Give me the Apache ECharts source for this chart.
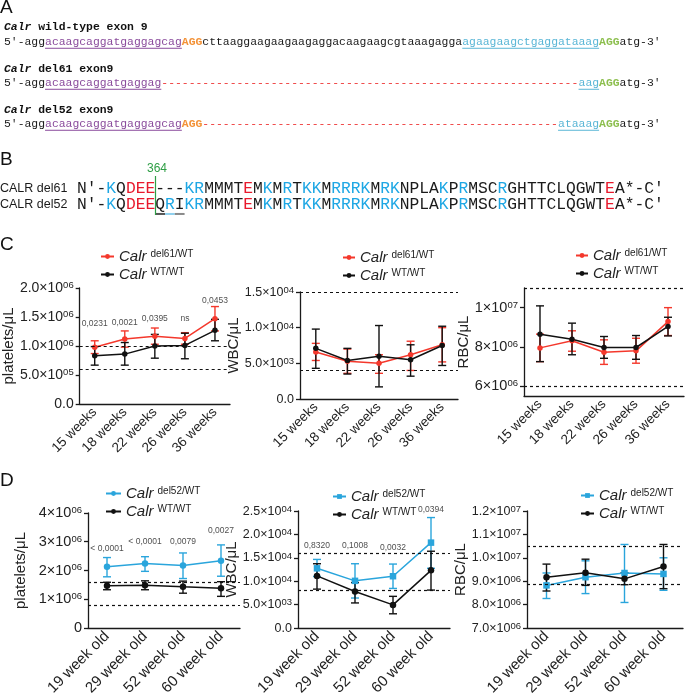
<!DOCTYPE html>
<html>
<head>
<meta charset="utf-8">
<script src="https://cdn.jsdelivr.net/npm/echarts@6/dist/echarts.min.js"></script>
<style>
html, body { margin: 0; padding: 0; background: #fff; }
#chart { width: 685px; height: 698px; }
</style>
</head>
<body>
<div id="chart"></div>
<script>
// ---------- data ----------
const weeksC = ['15 weeks', '18 weeks', '22 weeks', '26 weeks', '36 weeks'];
const weeksD = ['19 week old', '29 week old', '52 week old', '60 week old'];

// C: platelets / uL
const cPltDel61 = [0.98e6, 1.12e6, 1.17e6, 1.13e6, 1.47e6];
const cPltDel61Hi = [1.09e6, 1.26e6, 1.31e6, 1.23e6, 1.68e6];
const cPltDel61Lo = [0.87e6, 0.98e6, 1.03e6, 1.03e6, 1.26e6];
const cPltWt = [0.83e6, 0.86e6, 1.00e6, 1.01e6, 1.27e6];
const cPltWtHi = [0.99e6, 1.06e6, 1.20e6, 1.22e6, 1.46e6];
const cPltWtLo = [0.67e6, 0.67e6, 0.79e6, 0.78e6, 1.09e6];
const cPltRef = [1.0e6, 0.6e6];
const cPltP = ['0,0231', '0,0021', '0,0395', 'ns', '0,0453'];
const cPltPLevel = [1.38e6, 1.40e6, 1.48e6, 1.48e6, 1.78e6];

// C: WBC / uL
const cWbcDel61 = [6.6e3, 5.3e3, 5.0e3, 6.2e3, 7.6e3];
const cWbcDel61Hi = [7.8e3, 7.0e3, 6.2e3, 8.1e3, 10.0e3];
const cWbcDel61Lo = [5.4e3, 3.6e3, 3.6e3, 4.0e3, 5.2e3];
const cWbcWt = [7.1e3, 5.4e3, 6.0e3, 5.5e3, 7.5e3];
const cWbcWtHi = [9.8e3, 7.1e3, 10.3e3, 7.6e3, 10.2e3];
const cWbcWtLo = [4.3e3, 3.5e3, 1.7e3, 3.2e3, 4.7e3];
const cWbcRef = [1.5e4, 4.0e3];

// C: RBC / uL
const cRbcDel61 = [7.95e6, 8.31e6, 7.73e6, 7.80e6, 9.29e6];
const cRbcDel61Hi = [8.65e6, 8.82e6, 8.36e6, 8.44e6, 10.0e6];
const cRbcDel61Lo = [7.25e6, 7.78e6, 7.11e6, 7.17e6, 8.58e6];
const cRbcWt = [8.65e6, 8.39e6, 7.97e6, 7.97e6, 9.04e6];
const cRbcWtHi = [10.09e6, 9.21e6, 8.53e6, 8.58e6, 9.51e6];
const cRbcWtLo = [7.25e6, 7.60e6, 7.42e6, 7.37e6, 8.56e6];
const cRbcRef = [1.1e7, 6.0e6];
const cRbcTicks = [6e6, 8e6, 1e7];

// D: platelets / uL
const dPltDel52 = [2.13e6, 2.24e6, 2.17e6, 2.34e6];
const dPltDel52Hi = [2.45e6, 2.48e6, 2.61e6, 2.89e6];
const dPltDel52Lo = [1.78e6, 1.97e6, 1.72e6, 1.80e6];
const dPltWt = [1.47e6, 1.49e6, 1.43e6, 1.38e6];
const dPltWtHi = [1.59e6, 1.64e6, 1.63e6, 1.61e6];
const dPltWtLo = [1.33e6, 1.33e6, 1.21e6, 1.10e6];
const dPltRef = [1.6e6, 0.8e6];
const dPltP = ['< 0,0001', '< 0,0001', '0,0079', '0,0027'];
const dPltPLevel = [2.76e6, 2.99e6, 2.99e6, 3.37e6];

// D: WBC / uL
const dWbcDel52 = [12.75e3, 10.07e3, 11.06e3, 18.24e3];
const dWbcDel52Hi = [14.65e3, 13.73e3, 13.66e3, 23.6e3];
const dWbcDel52Lo = [11.0e3, 6.4e3, 8.45e3, 12.75e3];
const dWbcWt = [11.13e3, 7.8e3, 4.93e3, 12.32e3];
const dWbcWtHi = [13.73e3, 9.7e3, 6.76e3, 16.4e3];
const dWbcWtLo = [8.3e3, 5.35e3, 3.03e3, 8.1e3];
const dWbcRef = [1.6e4, 8.0e3];
const dWbcP = ['0,8320', '0,1008', '0,0032', '0,0394'];
const dWbcPLevel = [17.6e3, 17.6e3, 17.25e3, 25.2e3];

// D: RBC / uL
const dRbcDel52 = [8.82e6, 9.17e6, 9.35e6, 9.31e6];
const dRbcDel52Hi = [9.35e6, 9.87e6, 10.57e6, 10.0e6];
const dRbcDel52Lo = [8.26e6, 8.47e6, 8.09e6, 8.61e6];
const dRbcWt = [9.17e6, 9.36e6, 9.10e6, 9.63e6];
const dRbcWtHi = [9.73e6, 9.94e6, 9.36e6, 10.57e6];
const dRbcWtLo = [8.58e6, 8.82e6, 8.85e6, 8.68e6];
const dRbcRef = [1.05e7, 8.85e6];

// sequences (panel A, B)
const seqGuide = 'acaagcaggatgaggagcag';
const seqMid = 'cttaaggaagaagaagaggacaagaagcgtaaagagga';
const seqRight = 'agaagaagctgaggataaag';
const protDel61 = 'N′-KQDEE---KRMMMTEMKMRTKKMRRRKMRKNPLAKPRMSCRGHTTCLQGWTEA*-C′';
const protDel52 = 'N′-KQDEEQRIKRMMMTEMKMRTKKMRRRKMRKNPLAKPRMSCRGHTTCLQGWTEA*-C′';

// ---------- styles ----------
const SANS = 'Liberation Sans';
const MONO = 'Liberation Mono';
const AX = '#1a1a1a';
const RED = '#f4382c';
const BLUE = '#2aa5dc';
const BLACK = '#111111';
const PURPLE = '#8a4b9c';
const ORANGE = '#f39237';
const LBLUE = '#5ab6d6';
const GREEN = '#8dbf4f';

function sci (v, dec) {
  if (v === 0) return '{b|' + (0).toFixed(dec) + '}';
  const e = Math.floor(Math.log10(v) + 1e-9);
  const m = v / Math.pow(10, e);
  return '{b|' + m.toFixed(dec) + '×10}{s|' + String(e).padStart(2, '0') + '}';
}
function tickRich (fs) {
  return {
    b: { fontSize: fs, fontFamily: SANS, color: '#222', lineHeight: fs + 1, verticalAlign: 'bottom' },
    s: { fontSize: 9.5, fontFamily: SANS, color: '#222', lineHeight: 9, padding: [0, 0, 7, 0], verticalAlign: 'top' }
  };
}
const legendRich = {
  it: { fontSize: 15, fontStyle: 'italic', fontFamily: SANS, color: '#222', lineHeight: 15, verticalAlign: 'bottom' },
  sup: { fontSize: 10, fontFamily: SANS, color: '#222', lineHeight: 9, padding: [0, 0, 8, 4], verticalAlign: 'top' }
};

function errRender (color) {
  return function (params, api) {
    const x = api.value(0);
    const lo = api.coord([x, api.value(1)]);
    const hi = api.coord([x, api.value(2)]);
    const w = 4;
    const st = { stroke: color, lineWidth: 1.4 };
    return {
      type: 'group',
      children: [
        { type: 'line', shape: { x1: lo[0], y1: lo[1], x2: hi[0], y2: hi[1] }, style: st },
        { type: 'line', shape: { x1: lo[0] - w, y1: lo[1], x2: lo[0] + w, y2: lo[1] }, style: st },
        { type: 'line', shape: { x1: hi[0] - w, y1: hi[1], x2: hi[0] + w, y2: hi[1] }, style: st }
      ]
    };
  };
}

const grids = [];
const xAxes = [];
const yAxes = [];
const series = [];
const legends = [];

// 一个面板 = grid + 坐标轴 + 两组折线/误差线
function addPanel (p) {
  const k = grids.length;
  grids.push(p.grid);
  xAxes.push({
    type: 'category', gridIndex: k, data: p.cats, boundaryGap: true,
    axisLine: { lineStyle: { color: AX, width: 1.3 } },
    axisTick: { alignWithLabel: true, length: 5, lineStyle: { color: AX, width: 1.3 } },
    axisLabel: { rotate: 45, fontSize: p.xfs, color: '#222', margin: 6, interval: 0, fontFamily: SANS },
    splitLine: { show: false }
  });
  const y = {
    type: 'value', gridIndex: k, min: p.min, max: p.max,
    name: p.name, nameLocation: 'middle', nameGap: p.nameGap,
    nameTextStyle: { fontSize: 15, color: '#222', fontFamily: SANS },
    axisLine: { show: true, lineStyle: { color: AX, width: 1.3 } },
    axisTick: { show: true, length: 4, lineStyle: { color: AX, width: 1.3 } },
    axisLabel: { margin: 6, formatter: v => sci(v, p.dec), rich: tickRich(p.fs) },
    splitLine: { show: false }
  };
  if (p.interval) y.interval = p.interval;
  if (p.custom) {
    y.axisTick.customValues = p.custom;
    y.axisLabel.customValues = p.custom;
  }
  yAxes.push(y);

  const names = [];
  p.groups.forEach((g, gi) => {
    const sname = 'p' + k + '_' + g.key;
    names.push(sname);
    series.push({
      type: 'custom', xAxisIndex: k, yAxisIndex: k, silent: true, z: 2,
      renderItem: errRender(g.color),
      encode: { x: 0, y: [1, 2] },
      data: p.cats.map((c, i) => [i, g.lo[i], g.hi[i]])
    });
    const line = {
      type: 'line', name: sname, xAxisIndex: k, yAxisIndex: k, z: 3,
      data: g.mean, color: g.color, symbol: g.symbol || 'circle', symbolSize: p.symSize,
      lineStyle: { width: 1.5, color: g.color }, itemStyle: { color: g.color }
    };
    if (gi === 0) {
      line.markLine = {
        silent: true, symbol: 'none', label: { show: false },
        lineStyle: { type: [3, 3], color: '#111', width: 1.2 },
        data: p.refs.map(v => ({ yAxis: v }))
      };
    }
    series.push(line);
  });

  if (p.pText) {
    series.push({
      type: 'scatter', xAxisIndex: k, yAxisIndex: k, silent: true, clip: false,
      symbolSize: 1, itemStyle: { color: 'rgba(0,0,0,0)' },
      label: { show: true, position: 'inside', formatter: '{b}', fontSize: 8.5, color: '#222', fontFamily: SANS },
      data: p.pText.map((t, i) => ({ name: t, value: [i, p.pLevel[i]] }))
    });
  }

  legends.push({
    orient: 'vertical', left: p.legend[0], top: p.legend[1],
    itemGap: 0, itemWidth: p.legend[2], itemHeight: 6, selectedMode: false,
    data: names,
    formatter: n => n.endsWith('wt') ? '{it|Calr}{sup|WT/WT}' : '{it|Calr}{sup|' + p.mut + '/WT}',
    textStyle: { rich: legendRich }
  });
}

addPanel({
  grid: { left: 77, top: 288, width: 153, height: 116 }, cats: weeksC, xfs: 13.5,
  min: 0, max: 2e6, interval: 5e5, dec: 1, fs: 14, name: 'platelets/μL', nameGap: 60,
  refs: cPltRef, symSize: 5.5, mut: 'del61', legend: [95, 244, 13],
  pText: cPltP, pLevel: cPltPLevel,
  groups: [
    { key: 'del', color: RED, mean: cPltDel61, hi: cPltDel61Hi, lo: cPltDel61Lo },
    { key: 'wt', color: BLACK, mean: cPltWt, hi: cPltWtHi, lo: cPltWtLo }
  ]
});
addPanel({
  grid: { left: 300, top: 292, width: 158, height: 107 }, cats: weeksC, xfs: 13.5,
  min: 0, max: 1.5e4, interval: 5e3, dec: 1, fs: 12.5, name: 'WBC/μL', nameGap: 55,
  refs: cWbcRef, symSize: 5.5, mut: 'del61', legend: [337, 245, 12],
  groups: [
    { key: 'del', color: RED, mean: cWbcDel61, hi: cWbcDel61Hi, lo: cWbcDel61Lo },
    { key: 'wt', color: BLACK, mean: cWbcWt, hi: cWbcWtHi, lo: cWbcWtLo }
  ]
});
addPanel({
  grid: { left: 524, top: 288, width: 160, height: 108 }, cats: weeksC, xfs: 13.5,
  min: 5.5e6, max: 1.1e7, custom: cRbcTicks, dec: 0, fs: 14.5, name: 'RBC/μL', nameGap: 51,
  refs: cRbcRef, symSize: 5.5, mut: 'del61', legend: [570, 243, 12],
  groups: [
    { key: 'del', color: RED, mean: cRbcDel61, hi: cRbcDel61Hi, lo: cRbcDel61Lo },
    { key: 'wt', color: BLACK, mean: cRbcWt, hi: cRbcWtHi, lo: cRbcWtLo }
  ]
});
addPanel({
  grid: { left: 88, top: 513, width: 152, height: 116 }, cats: weeksD, xfs: 15,
  min: 0, max: 4e6, interval: 1e6, dec: 0, fs: 14.5, name: 'platelets/μL', nameGap: 60,
  refs: dPltRef, symSize: 6.5, mut: 'del52', legend: [100, 481, 15],
  pText: dPltP, pLevel: dPltPLevel,
  groups: [
    { key: 'del', color: BLUE, mean: dPltDel52, hi: dPltDel52Hi, lo: dPltDel52Lo },
    { key: 'wt', color: BLACK, mean: dPltWt, hi: dPltWtHi, lo: dPltWtLo }
  ]
});
addPanel({
  grid: { left: 298, top: 511, width: 152, height: 118 }, cats: weeksD, xfs: 15,
  min: 0, max: 2.5e4, interval: 5e3, dec: 1, fs: 12.5, name: 'WBC/μL', nameGap: 57,
  refs: dWbcRef, symSize: 6.5, mut: 'del52', legend: [327, 484, 13],
  pText: dWbcP, pLevel: dWbcPLevel,
  groups: [
    { key: 'del', color: BLUE, mean: dWbcDel52, hi: dWbcDel52Hi, lo: dWbcDel52Lo, symbol: 'rect' },
    { key: 'wt', color: BLACK, mean: dWbcWt, hi: dWbcWtHi, lo: dWbcWtLo }
  ]
});
addPanel({
  grid: { left: 527, top: 511, width: 156, height: 119 }, cats: weeksD, xfs: 15,
  min: 7e6, max: 1.2e7, interval: 1e6, dec: 1, fs: 12.5, name: 'RBC/μL', nameGap: 56,
  refs: dRbcRef, symSize: 6.5, mut: 'del52', legend: [575, 483, 13],
  groups: [
    { key: 'del', color: BLUE, mean: dRbcDel52, hi: dRbcDel52Hi, lo: dRbcDel52Lo, symbol: 'rect' },
    { key: 'wt', color: BLACK, mean: dRbcWt, hi: dRbcWtHi, lo: dRbcWtLo }
  ]
});

// ---------- panel A / B text ----------
const graphics = [];
function panelLetter (t, x, y) {
  graphics.push({ type: 'text', x: x, y: y, style: { text: t, fill: '#111', fontSize: 19, fontFamily: SANS, verticalAlign: 'middle' } });
}
// 等宽字体，按字符位置排列，下划线单独画
function monoLine (x0, y, fs, parts) {
  const cw = fs * 0.6;
  let i = 0;
  parts.forEach(pt => {
    const t = pt[0];
    graphics.push({
      type: 'text', x: x0 + i * cw, y: y,
      style: {
        text: t, fill: pt[1] || '#1a1a1a', fontSize: fs, fontFamily: MONO,
        fontWeight: pt[2] || 'normal', fontStyle: pt[4] || 'normal', verticalAlign: 'middle'
      }
    });
    if (pt[3]) {
      graphics.push({
        type: 'line',
        shape: { x1: x0 + i * cw, y1: y + fs * 0.55, x2: x0 + (i + t.length) * cw, y2: y + fs * 0.55 },
        style: { stroke: pt[3], lineWidth: pt[5] || 1 }
      });
    }
    i += t.length;
  });
}

panelLetter('A', 0, 8);
const FSA = 11.4;
monoLine(4, 27, FSA, [['Calr', '#111', 'bold', null, 'italic'], [' wild-type exon 9', '#111', 'bold']]);
monoLine(4, 42, FSA, [
  ['5′-agg'], [seqGuide, PURPLE, 'normal', PURPLE], ['AGG', ORANGE, 'bold'],
  [seqMid], [seqRight, LBLUE, 'normal', LBLUE], ['AGG', GREEN, 'bold'], ['atg-3′']
]);
monoLine(4, 69, FSA, [['Calr', '#111', 'bold', null, 'italic'], [' del61 exon9', '#111', 'bold']]);
monoLine(4, 83, FSA, [
  ['5′-agg'], [seqGuide.slice(0, 17), PURPLE, 'normal', PURPLE], ['-'.repeat(61), '#ee3535'],
  ['aag', LBLUE, 'normal', LBLUE], ['AGG', GREEN, 'bold'], ['atg-3′']
]);
monoLine(4, 110, FSA, [['Calr', '#111', 'bold', null, 'italic'], [' del52 exon9', '#111', 'bold']]);
monoLine(4, 124, FSA, [
  ['5′-agg'], [seqGuide, PURPLE, 'normal', PURPLE], ['AGG', ORANGE, 'bold'], ['-'.repeat(52), '#ee3535'],
  ['ataaag', LBLUE, 'normal', LBLUE], ['AGG', GREEN, 'bold'], ['atg-3′']
]);

panelLetter('B', 0, 160);
const FSB = 16.3;
function residueColor (c) {
  if (c === 'K' || c === 'R') return '#1ea7e4';
  if (c === 'D' || c === 'E') return '#e8192c';
  return '#1a1a1a';
}
function proteinLine (label, seq, y, ulMap) {
  graphics.push({ type: 'text', x: 0, y: y, style: { text: label, fill: '#1a1a1a', fontSize: 12.5, fontFamily: SANS, verticalAlign: 'middle' } });
  monoLine(77, y, FSB, seq.split('').map((c, i) => {
    const ul = ulMap && ulMap[i];
    return [c, residueColor(c), 'normal', ul || null, 'normal', 2];
  }));
}
proteinLine('CALR del61', protDel61, 189, null);
proteinLine('CALR del52', protDel52, 205, { 8: '#555555', 9: '#8fd0ee', 10: '#8a8a8a' });
graphics.push({ type: 'line', shape: { x1: 155.5, y1: 176, x2: 155.5, y2: 215 }, style: { stroke: '#2e9e45', lineWidth: 1.2 } });
graphics.push({ type: 'text', x: 157, y: 169, style: { text: '364', fill: '#2e9e45', fontSize: 12, fontFamily: SANS, align: 'center', verticalAlign: 'middle' } });

panelLetter('C', 0, 245);
panelLetter('D', 0, 481);

const chart = echarts.init(document.getElementById('chart'));
chart.setOption({
  animation: false,
  backgroundColor: '#fff',
  textStyle: { fontFamily: SANS },
  grid: grids,
  xAxis: xAxes,
  yAxis: yAxes,
  legend: legends,
  series: series,
  graphic: graphics
});
</script>
</body>
</html>
